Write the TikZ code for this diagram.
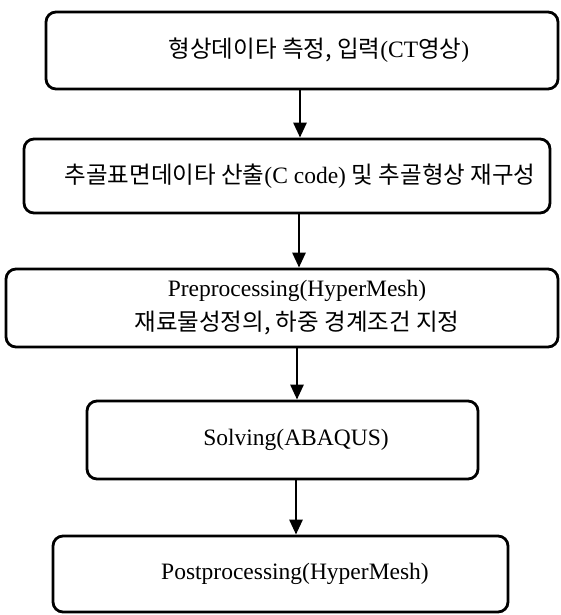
\documentclass[tikz,border=0pt]{standalone}
\usepackage{fontspec}
\setmainfont{Liberation Serif}
\newfontfamily\kor{Noto Sans CJK KR}
\usetikzlibrary{arrows.meta,positioning}
\tikzset{
  stepbox/.style={
    draw=black,
    line width=2.8pt,
    rounded corners=10pt,
    align=center,
    inner sep=0pt,
    font=\fontsize{23.5}{34}\selectfont
  },
  flowarrow/.style={
    -{Triangle[length=15pt,width=13pt]},
    line width=2.8pt
  }
}
\begin{document}
\begin{tikzpicture}[x=1pt,y=-1pt]
  \useasboundingbox (0,0) rectangle (560,615);
  \node[stepbox, minimum width=512pt, minimum height=77pt] (measure) at (302,50.5)
    {\hspace*{34pt}{\kor 형상데이타 측정, 입력}(CT{\kor 영상})};
  \node[stepbox, minimum width=526pt, minimum height=74pt] (surface) at (287,176)
    {\hspace*{26pt}{\kor 추골표면데이타 산출}(C code) {\kor 및 추골형상 재구성}};
  \node[stepbox, minimum width=552pt, minimum height=78pt] (preproc) at (282,308)
    {\hspace*{30pt}Preprocessing(HyperMesh)\\ \hspace*{30pt}{\kor 재료물성정의, 하중 경계조건 지정}};
  \node[stepbox, minimum width=391pt, minimum height=78pt] (solving) at (282.5,440)
    {\hspace*{27pt}Solving(ABAQUS)};
  \node[stepbox, minimum width=455pt, minimum height=76pt] (postproc) at (280.5,574)
    {\hspace*{29pt}Postprocessing(HyperMesh)};
  \draw[flowarrow] ([xshift=-2pt]measure.south) -- ([xshift=-2pt]measure.south |- surface.north);
  \draw[flowarrow] ([xshift=12pt]surface.south) -- ([xshift=12pt]surface.south |- preproc.north);
  \draw[flowarrow] ([xshift=15pt]preproc.south) -- ([xshift=15pt]preproc.south |- solving.north);
  \draw[flowarrow] ([xshift=13.5pt]solving.south) -- ([xshift=13.5pt]solving.south |- postproc.north);
\end{tikzpicture}
\end{document}
